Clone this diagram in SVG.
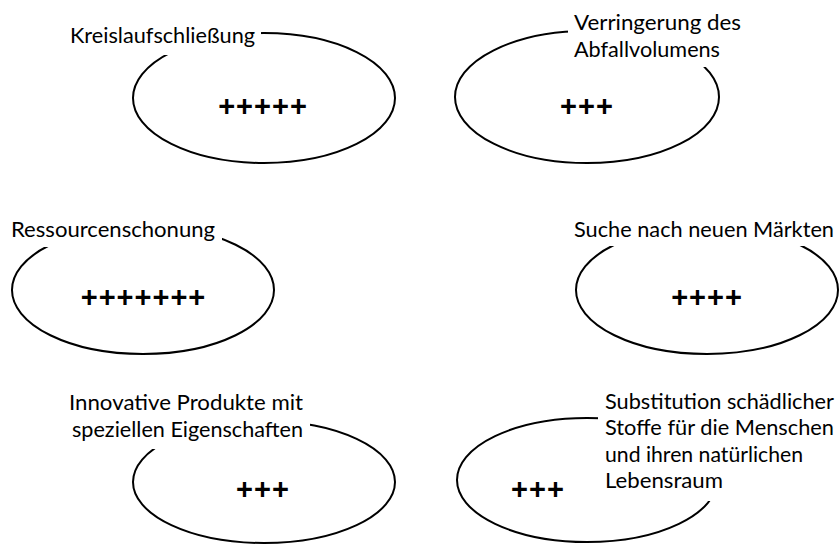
<svg xmlns="http://www.w3.org/2000/svg" width="839" height="544" viewBox="0 0 839 544">
<style>
.ell{fill:none;stroke:#000;stroke-width:2}
.mask{fill:#fff}
.lbl{font-family:Lato,"Open Sans","Liberation Sans",sans-serif;font-size:21px;fill:#000}
.pl{font-family:"Liberation Sans",Arial,sans-serif;font-size:29px;font-weight:bold;fill:#000;letter-spacing:1px}
</style>
<rect width="839" height="544" fill="#fff"/>
<g id="connectors"></g>
<g id="n1">
<ellipse class="ell" cx="264" cy="98" rx="131" ry="65"/>
<rect class="mask" x="64" y="18" width="197" height="37"/>
<text class="lbl" x="70" y="43" textLength="185" lengthAdjust="spacingAndGlyphs">Kreislaufschließung</text>
<text class="pl" x="263" y="116" text-anchor="middle">+++++</text>
</g>
<g id="n2">
<ellipse class="ell" cx="587" cy="97" rx="132" ry="66"/>
<rect class="mask" x="568" y="10" width="180" height="57"/>
<text class="lbl" x="574" y="30" textLength="167" lengthAdjust="spacingAndGlyphs">Verringerung des</text>
<text class="lbl" x="574" y="57" textLength="146" lengthAdjust="spacingAndGlyphs">Abfallvolumens</text>
<text class="pl" x="587" y="116" text-anchor="middle">+++</text>
</g>
<g id="n3">
<ellipse class="ell" cx="143" cy="290" rx="131" ry="64"/>
<rect class="mask" x="4" y="214" width="218" height="33"/>
<text class="lbl" x="11" y="237" textLength="204" lengthAdjust="spacingAndGlyphs">Ressourcenschonung</text>
<text class="pl" x="143.5" y="307" text-anchor="middle">+++++++</text>
</g>
<g id="n4">
<ellipse class="ell" cx="707" cy="290" rx="131" ry="64"/>
<rect class="mask" x="568" y="214" width="271" height="32"/>
<text class="lbl" x="574" y="237" textLength="260" lengthAdjust="spacingAndGlyphs">Suche nach neuen Märkten</text>
<text class="pl" x="707" y="307" text-anchor="middle">++++</text>
</g>
<g id="n5">
<ellipse class="ell" cx="264" cy="482" rx="131" ry="61"/>
<rect class="mask" x="64" y="386" width="246" height="63"/>
<text class="lbl" x="69" y="410" textLength="234" lengthAdjust="spacingAndGlyphs">Innovative Produkte mit</text>
<text class="lbl" x="72" y="437" textLength="231" lengthAdjust="spacingAndGlyphs">speziellen Eigenschaften</text>
<text class="pl" x="263" y="499" text-anchor="middle">+++</text>
</g>
<g id="n6">
<ellipse class="ell" cx="587" cy="480" rx="130" ry="62"/>
<rect class="mask" x="598" y="384" width="241" height="117"/>
<text class="lbl" x="605" y="409" textLength="229" lengthAdjust="spacingAndGlyphs">Substitution schädlicher</text>
<text class="lbl" x="605" y="435" textLength="229" lengthAdjust="spacingAndGlyphs">Stoffe für die Menschen</text>
<text class="lbl" x="605" y="462" textLength="198" lengthAdjust="spacingAndGlyphs">und ihren natürlichen</text>
<text class="lbl" x="605" y="488" textLength="118" lengthAdjust="spacingAndGlyphs">Lebensraum</text>
<text class="pl" x="538" y="499" text-anchor="middle">+++</text>
</g>
</svg>
